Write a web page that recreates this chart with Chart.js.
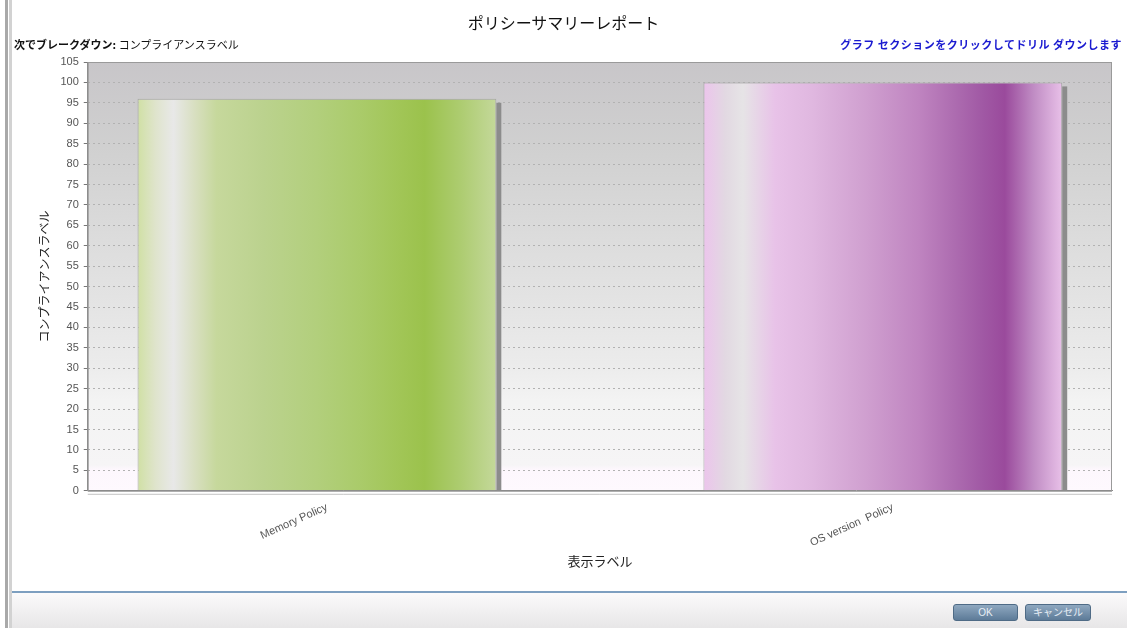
<!DOCTYPE html>
<html>
<head>
<meta charset="utf-8">
<script src="https://cdn.jsdelivr.net/npm/chart.js@4.4.0/dist/chart.umd.min.js"></script>
<style>
  body { margin: 0; background: #fff; font-family: "Noto Sans CJK JP", sans-serif; }
  #page { position: relative; width: 1127px; height: 628px; overflow: hidden; }
  #edge1 { position: absolute; left: 5px; top: 0; width: 3px; height: 628px; background: #a9a9a9; }
  #edge2 { position: absolute; left: 9px; top: 0; width: 3px; height: 628px; background: #d2d2d2; }
  #wrap { position: absolute; left: 0; top: 0; width: 1127px; height: 590px; }
  .hdr { position: absolute; top: 36px; font-size: 11px; font-weight: bold; white-space: nowrap; }
  #sub { left: 14px; color: #111; }
  #sub span { font-weight: normal; }
  #drill { right: 5px; color: #1a1ad0; letter-spacing: 0.5px; }
  #title { position: absolute; top: 10px; left: 0; width: 1127px; text-align: center; font-size: 16px; color: #111; }
  #footer { position: absolute; left: 12px; top: 591px; width: 1115px; height: 37px;
    border-top: 2px solid #7d9fc0; background: linear-gradient(#fbfafb, #e6e5e6); }
  .btn { position: absolute; top: 11px; height: 15px; border-radius: 3px; border: 1px solid #4f6b86;
    background: linear-gradient(#8fa8c0, #5d7b98); color: #e8eef5; font-size: 10px;
    text-align: center; line-height: 15px; font-family: "Liberation Sans", "Noto Sans CJK JP", sans-serif; }
  #ok { left: 941px; width: 63px; }
  #cancel { left: 1013px; width: 64px; }
</style>
</head>
<body>
<div id="page">
  <div id="edge1"></div><div id="edge2"></div>
  <div id="wrap"><canvas id="policy_bar" width="1127" height="590"></canvas></div>
  <div id="title">ポリシーサマリーレポート</div>
  <div class="hdr" id="sub">次でブレークダウン: <span>コンプライアンスラベル</span></div>
  <div class="hdr" id="drill">グラフ セクションをクリックしてドリル ダウンします</div>
  <div id="footer">
    <div class="btn" id="ok">OK</div>
    <div class="btn" id="cancel">キャンセル</div>
  </div>
</div>
<script>
// data ------------------------------
var policies = ['Memory Policy', 'OS version  Policy'];
var compliance = [96, 100];
var yTicks = {min: 0, max: 105, step: 5};

// stripe colours for each bar (left -> right)
var greenStops = [
  [0, '#d0e0a4'], [0.05, '#dfe4cc'], [0.1, '#e8e8e8'], [0.16, '#d8dfc0'], [0.22, '#c6d89c'],
  [0.35, '#bbd28e'], [0.5, '#b2cf7c'], [0.62, '#aacb6a'], [0.72, '#a2c658'], [0.8, '#9bc24c'],
  [0.9, '#adcc70'], [1, '#c4d89a']
];
var purpleStops = [
  [0, '#ecc4ec'], [0.06, '#e2d8e2'], [0.11, '#e6e4e6'], [0.2, '#e8c2e8'], [0.3, '#e0b8e0'],
  [0.45, '#d0a0d0'], [0.6, '#bf84c0'], [0.7, '#ad6cb0'], [0.78, '#a058a4'], [0.84, '#9a4a9c'],
  [0.92, '#c08cc4'], [1, '#e8c0e8']
];
var stopSets = [greenStops, purpleStops];
var barPct = 0.634;

// utils ------------------------------
const barFill = (ctx) => {
    let chart = ctx.chart;
    if(!chart.chartArea || !chart.scales.x) return stopSets[ctx.dataIndex % 2][6][1];
    let xs = chart.scales.x;
    let w = (xs.getPixelForValue(1) - xs.getPixelForValue(0)) * barPct;
    let cx = xs.getPixelForValue(ctx.dataIndex);
    let g = chart.ctx.createLinearGradient(cx - w / 2, 0, cx + w / 2, 0);
    stopSets[ctx.dataIndex % 2].forEach(s => g.addColorStop(s[0], s[1]));
    return g;
}

const plotBg = {
    id: 'plotBg',
    beforeDatasetsDraw(chart) {
        let {ctx, chartArea: a} = chart;
        ctx.save();
        let g = ctx.createLinearGradient(0, a.top, 0, a.bottom);
        g.addColorStop(0, '#c8c6c9');
        g.addColorStop(0.2, '#d0d0d0');
        g.addColorStop(0.45, '#dedede');
        g.addColorStop(0.7, '#ebebeb');
        g.addColorStop(0.79, '#f3f3f3');
        g.addColorStop(0.94, '#f6f5f6');
        g.addColorStop(0.95, '#fdf7fd');
        g.addColorStop(1, '#fef9fe');
        ctx.globalCompositeOperation = 'destination-over';
        ctx.fillStyle = g;
        ctx.fillRect(a.left, a.top, a.right - a.left, a.bottom - a.top);
        ctx.globalCompositeOperation = 'source-over';
        // frame
        ctx.strokeStyle = '#9a9a9a';
        ctx.lineWidth = 1;
        ctx.strokeRect(a.left + 0.5, a.top + 0.5, a.right - a.left - 1, a.bottom - a.top);
        ctx.strokeStyle = '#c4c4c4';
        ctx.beginPath();
        ctx.moveTo(a.left, a.bottom + 3.5);
        ctx.lineTo(a.right, a.bottom + 3.5);
        ctx.stroke();
        // bar shadows
        chart.getDatasetMeta(0).data.forEach(el => {
            ctx.fillStyle = '#8c8c8c';
            ctx.fillRect(el.x + el.width / 2, el.y + 4, 5, a.bottom - el.y - 4);
        });
        ctx.restore();
    }
};

var policyChart = new Chart(document.getElementById('policy_bar'), {
    type: 'bar',
    data: {
        datasets: [{
            label: 'コンプライアンスラベル',
            data: policies.map((p, i) => ({x: i, y: compliance[i]})),
            backgroundColor: barFill,
            borderColor: '#a4a4a4',
            borderWidth: 1,
            borderSkipped: 'bottom',
            categoryPercentage: 1,
            barPercentage: barPct
        }]
    },
    options: {
        responsive: false,
        animation: false,
        layout: { padding: {top: 62, right: 15, left: 33, bottom: 17} },
        plugins: {
            legend: { display: false },
            tooltip: { enabled: false }
        },
        scales: {
            x: {
                type: 'linear',
                offset: false,
                min: -0.405,
                max: 1.405,
                afterBuildTicks: (axis) => { axis.ticks = policies.map((p, i) => ({value: i})); },
                ticks: {
                    callback: (v) => policies[v],
                    minRotation: 24,
                    maxRotation: 24,
                    labelOffset: 10,
                    color: '#555',
                    font: {family: 'Liberation Sans', size: 11},
                    padding: 2
                },
                grid: { display: false },
                border: { color: '#888' },
                title: {
                    display: true,
                    text: '表示ラベル',
                    color: '#222',
                    font: {family: 'Noto Sans CJK JP', size: 13},
                    padding: {top: 2}
                }
            },
            y: {
                min: yTicks.min,
                max: yTicks.max,
                ticks: {
                    stepSize: yTicks.step,
                    color: '#555',
                    font: {family: 'Liberation Sans', size: 11},
                    padding: 5
                },
                grid: { color: '#b2b2b2', tickLength: 4, tickColor: '#777', tickBorderDash: [] },
                border: { color: '#888', dash: [2, 3] },
                title: {
                    display: true,
                    text: 'コンプライアンスラベル',
                    color: '#222',
                    font: {family: 'Noto Sans CJK JP', size: 12},
                    padding: {bottom: 4}
                }
            }
        }
    },
    plugins: [plotBg]
});
</script>
</body>
</html>
